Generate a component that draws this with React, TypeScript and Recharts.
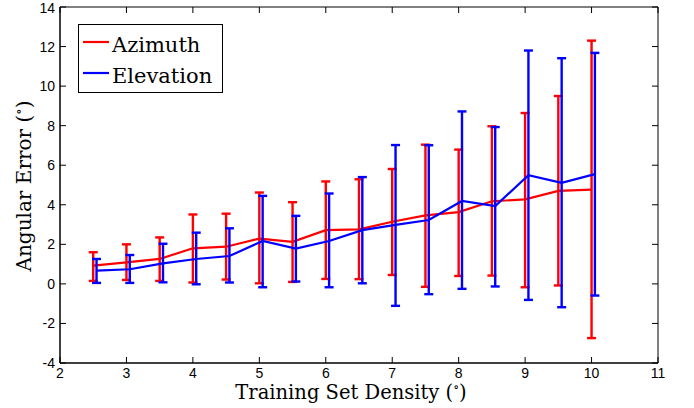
import React from "react";
import {
  LineChart,
  Line,
  XAxis,
  YAxis,
  ErrorBar,
  Legend,
} from "recharts";

// x positions (training set density, deg) – elevation drawn slightly offset
const densities = [2.5, 3, 3.5, 4, 4.5, 5, 5.5, 6, 6.5, 7, 7.5, 8, 8.5, 9, 9.5, 10];
const elevationOffset = 0.05;

const azimuthMean = [0.92, 1.09, 1.26, 1.8, 1.88, 2.29, 2.13, 2.72, 2.76, 3.14, 3.46, 3.63, 4.18, 4.27, 4.7, 4.77];
const azimuthLow = [0.15, 0.2, 0.15, 0.07, 0.22, 0.03, 0.1, 0.25, 0.24, 0.45, -0.15, 0.4, 0.42, -0.17, -0.08, -2.74];
const azimuthHigh = [1.6, 2.0, 2.35, 3.51, 3.55, 4.62, 4.13, 5.18, 5.29, 5.81, 7.04, 6.79, 7.97, 8.64, 9.5, 12.3];

const elevationMean = [0.67, 0.74, 1.04, 1.26, 1.41, 2.17, 1.78, 2.17, 2.72, 2.98, 3.23, 4.19, 3.93, 5.5, 5.11, 5.55];
const elevationLow = [0.05, 0.05, 0.08, -0.02, 0.07, -0.17, 0.12, -0.17, 0.03, -1.11, -0.52, -0.25, -0.13, -0.81, -1.18, -0.59];
const elevationHigh = [1.26, 1.46, 2.03, 2.59, 2.81, 4.45, 3.44, 4.57, 5.4, 7.02, 7.01, 8.72, 7.93, 11.8, 11.41, 11.68];

const xTicks = [2, 3, 4, 5, 6, 7, 8, 9, 10, 11];
const yTicks = [-4, -2, 0, 2, 4, 6, 8, 10, 12, 14];

const RED = "#ff0000";
const BLUE = "#0000ff";
const SERIF = "'DejaVu Serif', serif";
const SANS = "'Liberation Sans', Arial, sans-serif";

function buildSeries(mean: number[], low: number[], high: number[], shift: number) {
  return densities.map((d, i) => ({
    x: d + shift,
    y: mean[i],
    err: [mean[i] - low[i], high[i] - mean[i]],
  }));
}

const azimuthData = buildSeries(azimuthMean, azimuthLow, azimuthHigh, 0);
const elevationData = buildSeries(elevationMean, elevationLow, elevationHigh, elevationOffset);

const tickStyle = { fontFamily: SANS, fontSize: 14, fill: "#000" };
// mirrored axes only carry the inward tick marks, no labels
const noLabel = () => <g />;

function LegendBox() {
  const rows = [
    { name: "Azimuth", color: RED },
    { name: "Elevation", color: BLUE },
  ];
  return (
    <svg width={145} height={69}>
      <rect x={0.5} y={0.5} width={144} height={68} fill="#fff" stroke="#000" />
      {rows.map((r, i) => (
        <g key={r.name}>
          <line x1={5} x2={31} y1={18 + i * 31} y2={18 + i * 31} stroke={r.color} strokeWidth={2.2} />
          <text x={34} y={27.5 + i * 31} fontFamily={SERIF} fontSize={21} fill="#000">
            {r.name}
          </text>
        </g>
      ))}
    </svg>
  );
}

export default function App() {
  return (
    <div style={{ position: "absolute", left: 0, top: 0, width: 694, height: 408, background: "#fff" }}>
      <LineChart width={694} height={408} margin={{ top: 7, right: 36, bottom: 0, left: 0 }}>
        <XAxis
          xAxisId={0}
          dataKey="x"
          type="number"
          domain={[2, 11]}
          ticks={xTicks}
          height={45}
          stroke="#000"
          tickLine={false}
          tickSize={0}
          tickMargin={5}
          tick={tickStyle}
          label={{
            content: () => (
              <text x={351} y={399} textAnchor="middle" fontFamily={SERIF} fontSize={19.5} fill="#000">
                Training Set Density (
                <tspan dy={-8} fontSize={12}>∘</tspan>
                <tspan dy={8}>)</tspan>
              </text>
            ),
          }}
        />
        {(["bottomTicks", "topTicks"] as const).map((id) => (
          <XAxis
            key={id}
            xAxisId={id}
            orientation={id === "topTicks" ? "top" : "bottom"}
            mirror
            allowDataOverflow
            dataKey="x"
            type="number"
            domain={[2, 11]}
            ticks={xTicks}
            interval={0}
            height={1}
            stroke="#000"
            tickSize={6}
            tick={noLabel}
          />
        ))}
        <YAxis
          yAxisId={0}
          type="number"
          domain={[-4, 14]}
          ticks={yTicks}
          width={60}
          stroke="#000"
          tickLine={false}
          tickSize={0}
          tickMargin={5}
          tick={tickStyle}
          label={{
            content: () => (
              <text
                x={31}
                y={186}
                textAnchor="middle"
                transform="rotate(-90, 31, 186)"
                fontFamily={SERIF}
                fontSize={20}
                fill="#000"
              >
                Angular Error (
                <tspan dy={-8} fontSize={13}>∘</tspan>
                <tspan dy={8}>)</tspan>
              </text>
            ),
          }}
        />
        {(["leftTicks", "rightTicks"] as const).map((id) => (
          <YAxis
            key={id}
            yAxisId={id}
            orientation={id === "rightTicks" ? "right" : "left"}
            mirror
            allowDataOverflow
            type="number"
            domain={[-4, 14]}
            ticks={yTicks}
            interval={0}
            width={1}
            stroke="#000"
            tickSize={6}
            tick={noLabel}
          />
        ))}
        <Legend
          layout="vertical"
          align="center"
          verticalAlign="middle"
          wrapperStyle={{ left: 78, top: 24, width: 145, height: 69 }}
          content={() => <LegendBox />}
        />
        <Line
          data={azimuthData}
          dataKey="y"
          name="Azimuth"
          stroke={RED}
          strokeWidth={2.2}
          dot={false}
          type="linear"
          isAnimationActive={false}
        >
          <ErrorBar dataKey="err" direction="y" width={4.5} stroke={RED} strokeWidth={2.4} />
        </Line>
        <Line
          data={elevationData}
          dataKey="y"
          name="Elevation"
          stroke={BLUE}
          strokeWidth={2.2}
          dot={false}
          type="linear"
          isAnimationActive={false}
        >
          <ErrorBar dataKey="err" direction="y" width={4.5} stroke={BLUE} strokeWidth={2.4} />
        </Line>
      </LineChart>
    </div>
  );
}
